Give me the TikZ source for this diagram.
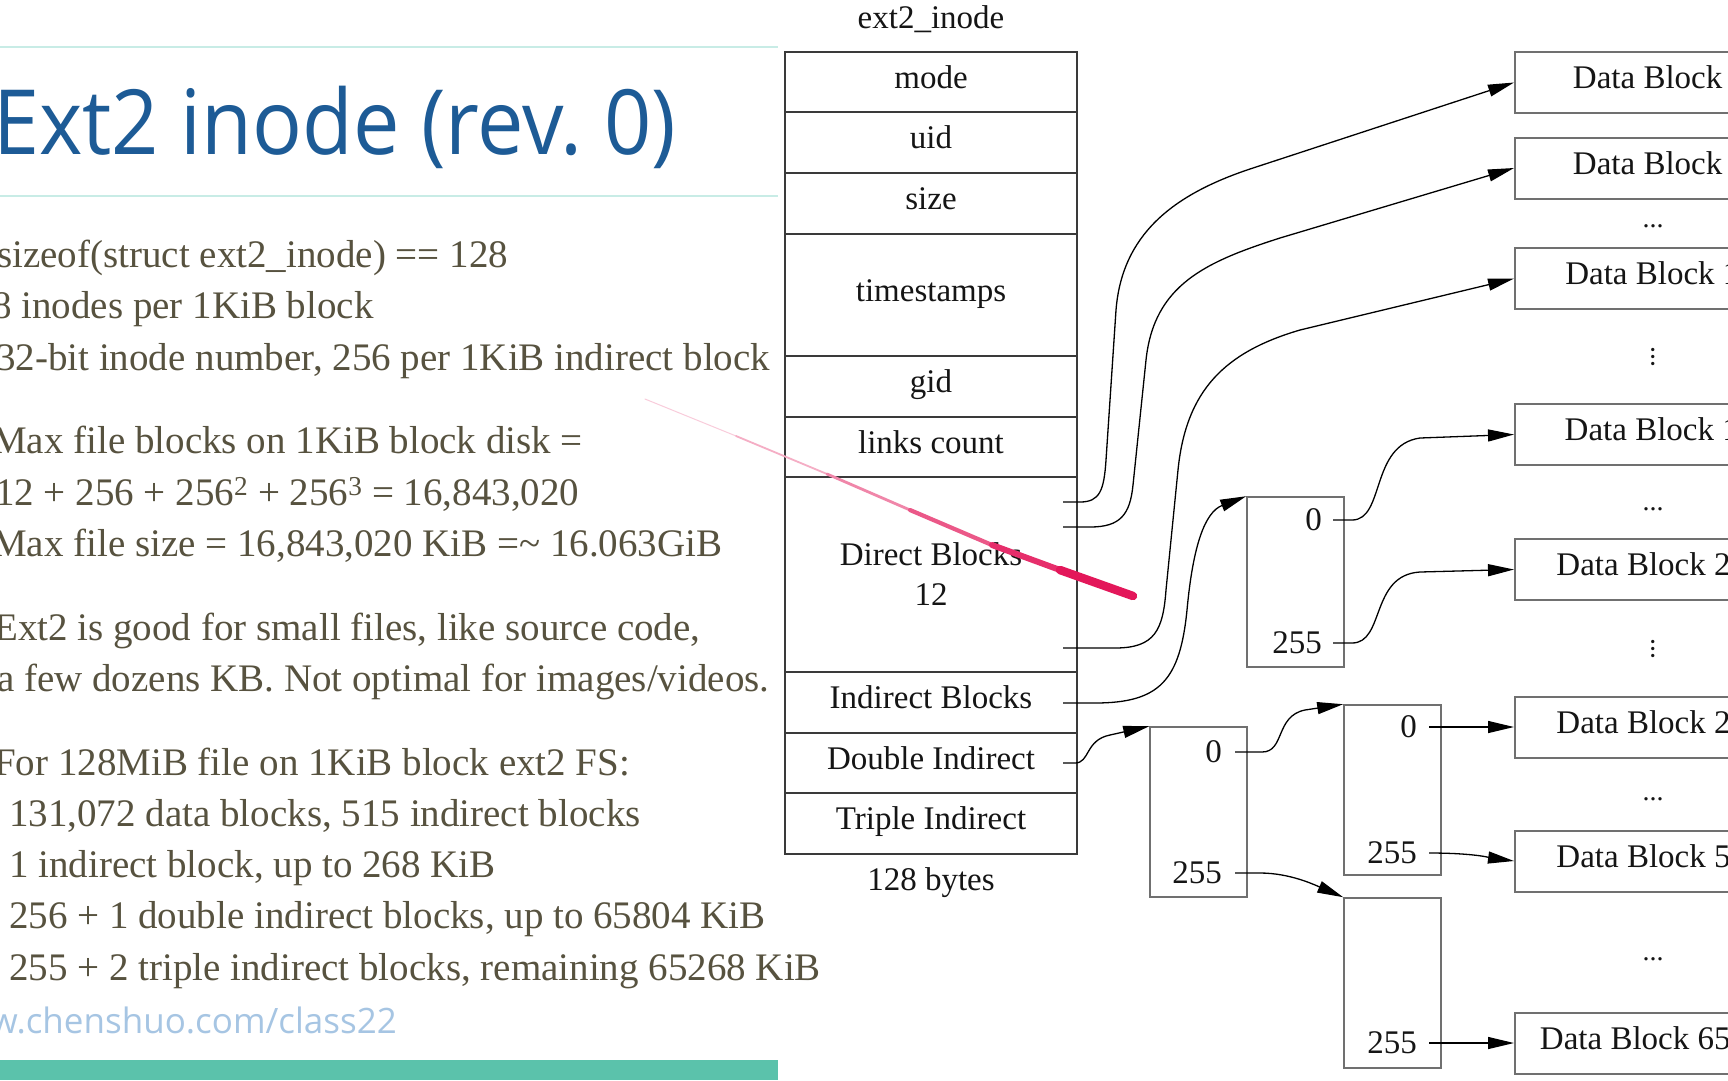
\documentclass[tikz,border=0pt]{standalone}
\usepackage{fontspec}
\usepackage{graphicx}
\setmainfont{Liberation Serif}
\newfontfamily\slidesans{Open Sans}
\usetikzlibrary{arrows.meta,positioning}

\begin{document}
\begin{tikzpicture}[x=1pt, y=-1pt,
  cell/.style={draw=tablegray, line width=2pt, minimum width=292pt, inner sep=0pt, outer sep=0pt, text=inktext, font=\fontsize{33}{40}\selectfont, align=center},
  row/.style={cell, text height=20pt, text depth=8pt},
  plain/.style={inner sep=0pt, text=inktext, font=\fontsize{33}{40}\selectfont},
  ibox/.style={draw=boxgray, line width=1.6pt, minimum width=97pt, minimum height=170pt, inner sep=0pt},
  idx/.style={plain, anchor=east},
  dblock/.style={draw=boxgray, line width=2pt, minimum width=290pt, minimum height=61pt, inner sep=0pt, text height=20pt, text depth=8pt, text=inktext, font=\fontsize{33}{40}\selectfont},
  gap/.style={inner sep=0pt, text=inktext, font=\fontsize{28}{28}\selectfont},
  ptr/.style={draw=black, line width=1.3pt, -{Triangle[length=26pt, width=12pt]}},
  body/.style={inner sep=0pt, anchor=base west, text=bodytext, font=\fontsize{39}{51}\selectfont},
  pen/.style={line cap=round, line join=round}
]
\definecolor{slideblue}{HTML}{1D5B96}
\definecolor{bodytext}{HTML}{57523F}
\definecolor{linkblue}{HTML}{A6C5E3}
\definecolor{tealline}{HTML}{C8ECE6}
\definecolor{tealbar}{HTML}{5BC2AB}
\definecolor{tablegray}{HTML}{3A3A3A}
\definecolor{boxgray}{HTML}{707070}
\definecolor{inktext}{HTML}{151515}
\definecolor{penred}{HTML}{E3175A}

\useasboundingbox (0,0) rectangle (1728,1080);
\clip (0,0) rectangle (1728,1080);
\fill[white] (0,0) rectangle (1728,1080);

\draw[tealline, line width=2pt] (0,47) -- (778,47);
\draw[tealline, line width=2pt] (0,196) -- (778,196);
\fill[tealbar] (0,1060) rectangle (778,1080);
\node[anchor=base west, inner sep=0pt, text=slideblue, font=\slidesans\fontsize{90}{100}\selectfont] (title) at (-7,154) {\scalebox{0.92}[1]{Ext2 inode (rev.\ 0)}};

\node[body] (sizeof) at (-3,267) {sizeof(struct ext2\_inode) == 128};
\node[body] (perblock) at (-8,318) {8 inodes per 1KiB block};
\node[body] (inodenum) at (-4,370) {32-bit inode number, 256 per 1KiB indirect block};
\node[body] (maxblocks) at (-8,453) {Max file blocks on 1KiB block disk =};
\node[body] (formula) at (-5,505) {12 + 256 + 256\textsuperscript{2} + 256\textsuperscript{3} = 16,843,020};
\node[body] (maxsize) at (-8,556) {Max file size = 16,843,020 KiB =\textasciitilde{} 16.063GiB};
\node[body] (small) at (-6,640) {Ext2 is good for small files, like source code,};
\node[body] (dozens) at (-3,691) {a few dozens KB. Not optimal for images/videos.};
\node[body] (forfile) at (-6,775) {For 128MiB file on 1KiB block ext2 FS:};
\node[body] (count) at (9,826) {131,072 data blocks, 515 indirect blocks};
\node[body] (single1) at (9,877) {1 indirect block, up to 268 KiB};
\node[body] (double1) at (9,928) {256 + 1 double indirect blocks, up to 65804 KiB};
\node[body] (triple1) at (9,980) {255 + 2 triple indirect blocks, remaining 65268 KiB};
\node[anchor=base east, inner sep=0pt, text=linkblue, font=\slidesans\fontsize{35}{40}\selectfont] (link) at (397,1033) {www.chenshuo.com/class22};

\node[plain] (inodename) at (931,19) {ext2\_inode};
\node[row, minimum height=60pt] (mode) at (931,82) {mode};
\node[row, minimum height=61pt] (uid) at (931,142.5) {uid};
\node[row, minimum height=61pt] (size) at (931,203.5) {size};
\node[row, minimum height=122pt] (stamps) at (931,295) {timestamps};
\node[row, minimum height=61pt] (gid) at (931,386.5) {gid};
\node[row, minimum height=60pt] (links) at (931,447) {links count};
\node[cell, minimum height=195pt] (direct) at (931,574.5) {Direct Blocks\\12};
\node[row, minimum height=61pt] (indirect) at (931,702.5) {Indirect Blocks};
\node[row, minimum height=60pt] (double) at (931,763) {Double Indirect};
\node[row, minimum height=61pt] (triple) at (931,823.5) {Triple Indirect};
\node[plain] (bytes) at (931,883) {128 bytes};

\coordinate (dp0) at (1063,502);
\coordinate (dp1) at (1063,527);
\coordinate (dp2) at (1063,648);
\coordinate (ip) at (1063,703);
\coordinate (dip) at (1063,763);

\node[ibox] (single) at (1295.5,582) {};
\node[idx] (s0) at (1322,520) {0};
\node[idx] (s255) at (1322,643) {255};
\coordinate (s0p) at (1333,520);
\coordinate (s255p) at (1333,643);

\node[ibox] (dbl) at (1198.5,812) {};
\node[idx] (d0) at (1222,752) {0};
\node[idx] (d255) at (1222,873) {255};
\coordinate (d0p) at (1235,752);
\coordinate (d255p) at (1235,873);

\node[ibox] (dblA) at (1392.5,790) {};
\node[idx] (a0) at (1417,727) {0};
\node[idx] (a255) at (1417,853) {255};
\coordinate (a0p) at (1429,727);
\coordinate (a255p) at (1429,853);

\node[ibox] (dblB) at (1392.5,983) {};
\node[idx] (b255) at (1417,1043) {255};
\coordinate (b255p) at (1429,1043);

\node[dblock] (db0) at (1660,82.5) {Data Block 0};
\node[dblock] (db1) at (1660,168) {Data Block 1};
\node[gap] (gap0) at (1653,226) {...};
\node[dblock] (db2) at (1660,278.5) {Data Block 11};
\node[gap, rotate=90] (gap1) at (1653,357) {...};
\node[dblock] (db3) at (1660,434.5) {Data Block 12};
\node[gap] (gap2) at (1653,509) {...};
\node[gap, rotate=90] (gap3) at (1653,649) {...};
\node[dblock] (db4) at (1660,569.5) {Data Block 267};
\node[dblock] (db5) at (1660,727) {Data Block 268};
\node[gap] (gap4) at (1653,799) {...};
\node[dblock] (db6) at (1660,861) {Data Block 523};
\node[gap] (gap5) at (1653,959) {...};
\node[dblock] (db7) at (1660,1043) {Data Block 65803};

\draw[ptr] (dp0) -- (1080,502) .. controls (1100,502) and (1104,490) .. (1106,460) -- (1116,310) .. controls (1122,235) and (1172,195) .. (1250,169) -- (db0.west);
\draw[ptr] (dp1) -- (1090,527) .. controls (1120,527) and (1130,515) .. (1133,485) -- (1146,360) .. controls (1154,285) and (1205,262) .. (1280,238) -- (db1.west);
\draw[ptr] (dp2) -- (1115,648) .. controls (1155,648) and (1163,630) .. (1166,590) -- (1178,470) .. controls (1186,390) and (1225,352) .. (1300,330) -- (db2.west);
\draw[ptr] (ip) -- (1095,703) .. controls (1160,703) and (1180,680) .. (1187,610) .. controls (1193,545) and (1205,512) .. (single.north west);
\draw[ptr] (dip) -- (1075,763) .. controls (1090,763) and (1085,740) .. (1110,735) -- (dbl.north west);
\draw[ptr] (s0p) -- (1352,520) .. controls (1385,520) and (1370,445) .. (1420,438) -- (db3.west);
\draw[ptr] (s255p) -- (1352,643) .. controls (1385,643) and (1370,575) .. (1420,572) -- (db4.west);
\draw[ptr] (d0p) -- (1262,752) .. controls (1285,752) and (1275,716) .. (1305,710) -- (dblA.north west);
\draw[ptr] (d255p) -- (1260,873) .. controls (1290,873) and (1315,885) .. (dblB.north west);
\draw[ptr] (a0p) -- (db5.west);
\draw[ptr] (a255p) .. controls (1475,853) and (1492,858) .. (db6.west);
\draw[ptr] (b255p) -- (db7.west);

\draw[pen, penred!22, line width=1pt] (645,399) -- (736,436);
\draw[pen, penred!35, line width=1.8pt] (736,436) -- (827,474);
\draw[pen, penred!52, line width=2.8pt] (827,474) -- (910,510);
\draw[pen, penred!72, line width=4.2pt] (910,510) -- (992,545);
\draw[pen, penred!90, line width=6pt] (992,545) -- (1060,570);
\draw[pen, penred, line width=8.5pt] (1060,570) -- (1133,596);
\end{tikzpicture}
\end{document}
